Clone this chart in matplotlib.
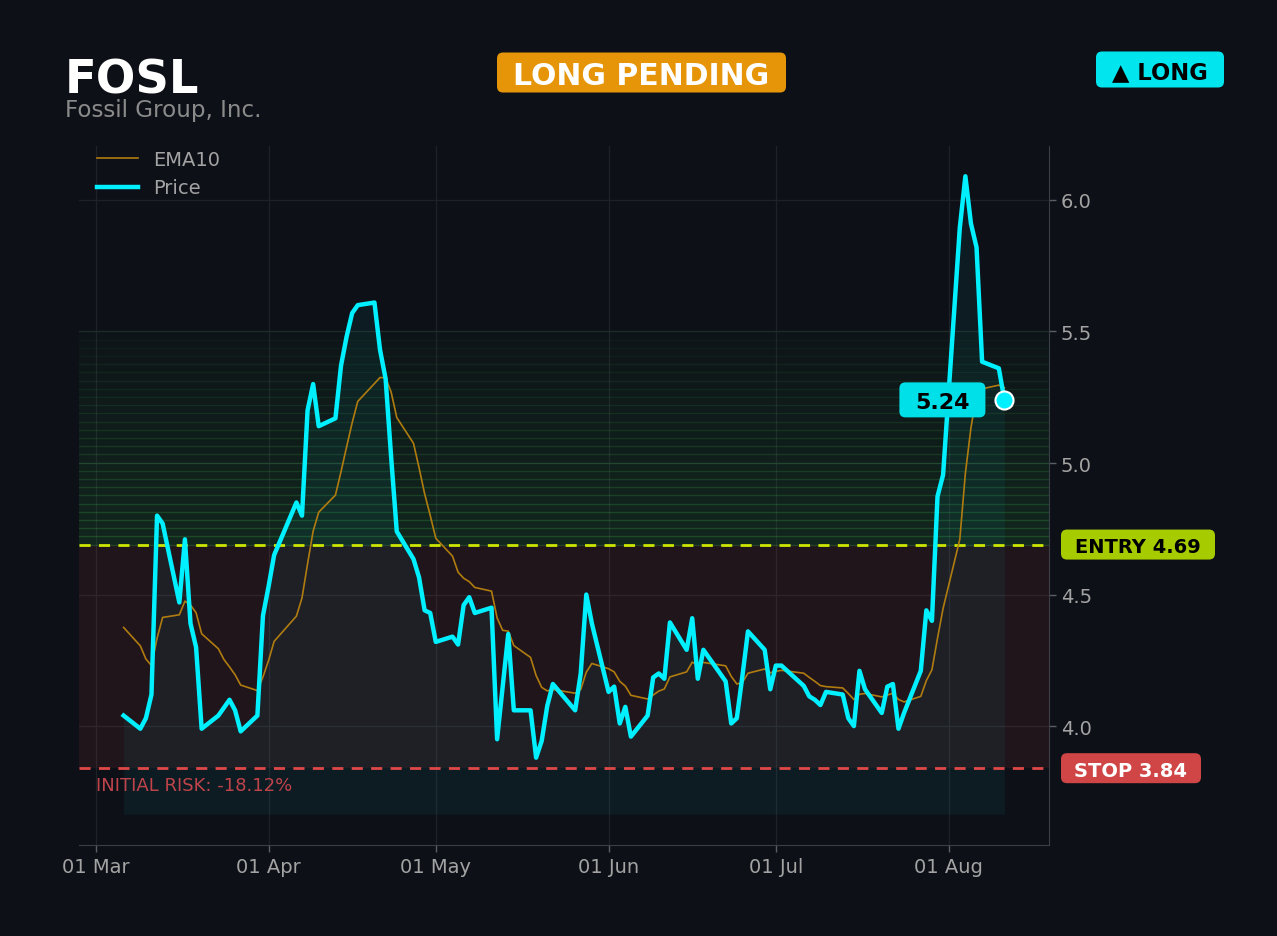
"""FOSL long-pending setup chart: price vs EMA10 with entry / stop zones."""
import matplotlib
matplotlib.use("Agg")
import matplotlib.pyplot as plt
import matplotlib.dates as mdates
from matplotlib.patches import FancyBboxPatch
from matplotlib.ticker import MultipleLocator, FormatStrFormatter
from matplotlib.transforms import IdentityTransform, blended_transform_factory
import pandas as pd

TICKER = "FOSL"
COMPANY = "Fossil Group, Inc."
STATUS = "LONG PENDING"
SIDE = "▲ LONG"

# NYSE sessions, 6 Mar - 11 Aug 2026
FIRST_DAY = "2026-03-06"
LAST_DAY = "2026-08-11"
HOLIDAYS = ["2026-04-03", "2026-05-25", "2026-06-19", "2026-07-03"]

# closing prices, one row per week
price = [
    4.04,
    3.99, 4.03, 4.12, 4.80, 4.77,
    4.47, 4.71, 4.39, 4.30, 3.99,
    4.04, 4.07, 4.10, 4.06, 3.98,
    4.04, 4.42, 4.53, 4.65,
    4.85, 4.80, 5.20, 5.30, 5.14,
    5.17, 5.37, 5.48, 5.57, 5.60,
    5.61, 5.43, 5.32, 5.02, 4.74,
    4.635, 4.565, 4.44, 4.43, 4.32,
    4.34, 4.31, 4.46, 4.49, 4.43,
    4.45, 3.95, 4.15, 4.35, 4.06,
    4.06, 3.88, 3.944, 4.077, 4.16,
    4.06, 4.20, 4.50, 4.39,
    4.13, 4.15, 4.01, 4.073, 3.96,
    4.04, 4.185, 4.20, 4.18, 4.394,
    4.29, 4.41, 4.18, 4.29,
    4.17, 4.01, 4.03, 4.19, 4.36,
    4.29, 4.14, 4.23, 4.23,
    4.153, 4.113, 4.10, 4.08, 4.13,
    4.12, 4.03, 4.00, 4.21, 4.14,
    4.05, 4.15, 4.16, 3.99, 4.05,
    4.21, 4.44, 4.40, 4.873, 4.955,
    5.894, 6.09, 5.91, 5.82, 5.385,
    5.36, 5.24,
]

ema10 = [
    4.375,
    4.305, 4.255, 4.230, 4.334, 4.413,
    4.423, 4.475, 4.460, 4.431, 4.351,
    4.294, 4.253, 4.225, 4.195, 4.156,
    4.135, 4.187, 4.249, 4.322,
    4.418, 4.487, 4.617, 4.741, 4.813,
    4.878, 4.967, 5.061, 5.153, 5.234,
    5.302, 5.325, 5.324, 5.269, 5.173,
    5.075, 4.982, 4.883, 4.801, 4.714,
    4.646, 4.585, 4.562, 4.549, 4.527,
    4.513, 4.411, 4.364, 4.361, 4.306,
    4.261, 4.192, 4.147, 4.134, 4.139,
    4.125, 4.139, 4.205, 4.238,
    4.218, 4.206, 4.170, 4.152, 4.117,
    4.103, 4.118, 4.133, 4.141, 4.187,
    4.206, 4.243, 4.232, 4.242,
    4.229, 4.189, 4.160, 4.166, 4.201,
    4.217, 4.203, 4.208, 4.212,
    4.201, 4.185, 4.170, 4.154, 4.150,
    4.145, 4.124, 4.101, 4.121, 4.124,
    4.111, 4.118, 4.125, 4.101, 4.092,
    4.113, 4.173, 4.214, 4.334, 4.447,
    4.710, 4.961, 5.134, 5.259, 5.282,
    5.296, 5.286,
]

entry = 4.69
stop = 3.84
target_zone_top = 5.5
fill_base = 3.665
initial_risk = -18.12

BG = "#0d1117"
CYAN = "#00f0ff"
EMA_C = "#b07c10"
ENTRY_C = "#cce600"
STOP_C = "#e04848"
GREEN = "#2ea043"
GRID_C = "#1e2228"
TEXT_C = "#a3a3a3"

W, H = 1277, 937


def badge(fig, cx, cy, w, h, text, face, ink, size):
    # cx, cy are display pixels measured from the bottom-left corner
    box = FancyBboxPatch((cx - w / 2, cy - h / 2), w, h,
                         boxstyle="round,pad=0,rounding_size=6",
                         fc=face, ec="none", transform=IdentityTransform(), zorder=10)
    fig.add_artist(box)
    fig.text(cx, cy, text, transform=IdentityTransform(), ha="center",
             va="center_baseline", color=ink, fontsize=size, weight="bold", zorder=11)


def main():
    days = pd.bdate_range(FIRST_DAY, LAST_DAY, freq="C", holidays=HOLIDAYS)
    assert len(days) == len(price) == len(ema10)

    fig = plt.figure(figsize=(W / 100, H / 100), dpi=100, facecolor=BG)
    ax = fig.add_axes([79 / W, 1 - 846 / H, (1049 - 79) / W, (846 - 147) / H])
    ax.set_facecolor(BG)

    ax.set_xlim(days[0] - pd.Timedelta(days=8), days[-1] + pd.Timedelta(days=8))
    ax.set_ylim(3.548, 6.205)

    # risk zone between stop and entry
    ax.axhspan(stop, entry, color=STOP_C, alpha=0.09, lw=0, zorder=1)
    # fading green bands above entry
    n = 26
    for i in range(n):
        lo = entry + (target_zone_top - entry) * i / n
        hi = entry + (target_zone_top - entry) * (i + 1) / n
        fade = 1 - i / n
        ax.axhspan(lo, hi, color=GREEN, alpha=0.02 + 0.13 * fade, lw=0, zorder=1)
        ax.axhline(lo, color="#3fb950", alpha=0.04 + 0.22 * fade, lw=1.0, zorder=1.1)
    ax.axhline(target_zone_top, color="#3fb950", alpha=0.06, lw=1.0, zorder=1.1)

    ax.fill_between(days, price, fill_base, color=CYAN, alpha=0.05, lw=0, zorder=2)

    ax.axhline(entry, color=ENTRY_C, ls=(0, (4, 3)), lw=2, zorder=3)
    ax.axhline(stop, color=STOP_C, ls=(0, (4, 3)), lw=2, zorder=3)

    ax.plot(days, ema10, color=EMA_C, lw=1.2, label="EMA10", zorder=4)
    ax.plot(days, price, color=CYAN, lw=3.2, label="Price", zorder=5)
    ax.plot(days[-1], price[-1], "o", ms=13, mfc=CYAN, mec="white", mew=1.5, zorder=6)

    blend = blended_transform_factory(ax.transAxes, ax.transData)
    ax.text(0.0175, stop - 0.064, f"INITIAL RISK: {initial_risk:.2f}%", transform=blend,
            color="#c0434b", fontsize=13, va="center", ha="left", zorder=6)

    ax.yaxis.tick_right()
    ax.yaxis.set_major_locator(MultipleLocator(0.5))
    ax.yaxis.set_major_formatter(FormatStrFormatter("%.1f"))
    ax.xaxis.set_major_locator(mdates.MonthLocator(bymonthday=1))
    ax.xaxis.set_major_formatter(mdates.DateFormatter("%d %b"))
    ax.tick_params(axis="both", color="#5a5f66", labelcolor=TEXT_C, labelsize=14,
                   length=5, width=1)
    ax.grid(True, color=GRID_C, lw=0.9)
    ax.set_axisbelow(True)
    for side in ("top", "left"):
        ax.spines[side].set_visible(False)
    for side in ("right", "bottom"):
        ax.spines[side].set_color("#3a3f47")

    leg = ax.legend(loc="upper left", bbox_to_anchor=(0.0105, 1.006), borderaxespad=0,
                    frameon=False, fontsize=14, handlelength=2.1)
    for t in leg.get_texts():
        t.set_color(TEXT_C)

    # header
    fig.text(65 / W, 1 - 93 / H, TICKER, color="white", fontsize=33.5, weight="bold",
             va="baseline", ha="left")
    fig.text(65 / W, 1 - 117 / H, COMPANY, color="#8a8a8a", fontsize=16.6,
             va="baseline", ha="left")
    badge(fig, 641.5, H - 73.5, 289, 40, STATUS, "#e69508", "white", 21.5)
    badge(fig, 1160, H - 70.5, 128, 36, SIDE, "#00e5ee", "black", 16.3)

    # level badges, tied to the data scale
    right_px = ax.get_position().x1 * W
    entry_y = ax.transData.transform((0, entry))[1]
    stop_y = ax.transData.transform((0, stop))[1]
    badge(fig, right_px + 12 + 77, entry_y, 154, 30, f"ENTRY {entry:.2f}", "#a6cc00", "black", 14)
    badge(fig, right_px + 12 + 70, stop_y, 140, 30, f"STOP {stop:.2f}", "#d04545", "white", 14)

    px, py = ax.transData.transform((mdates.date2num(days[-1]), price[-1]))
    badge(fig, px - 62, py, 86, 35, f"{price[-1]:.2f}", "#00e0e8", "black", 16)

    fig.savefig("out.png", dpi=100, facecolor=BG)
    plt.close(fig)


if __name__ == "__main__":
    main()
